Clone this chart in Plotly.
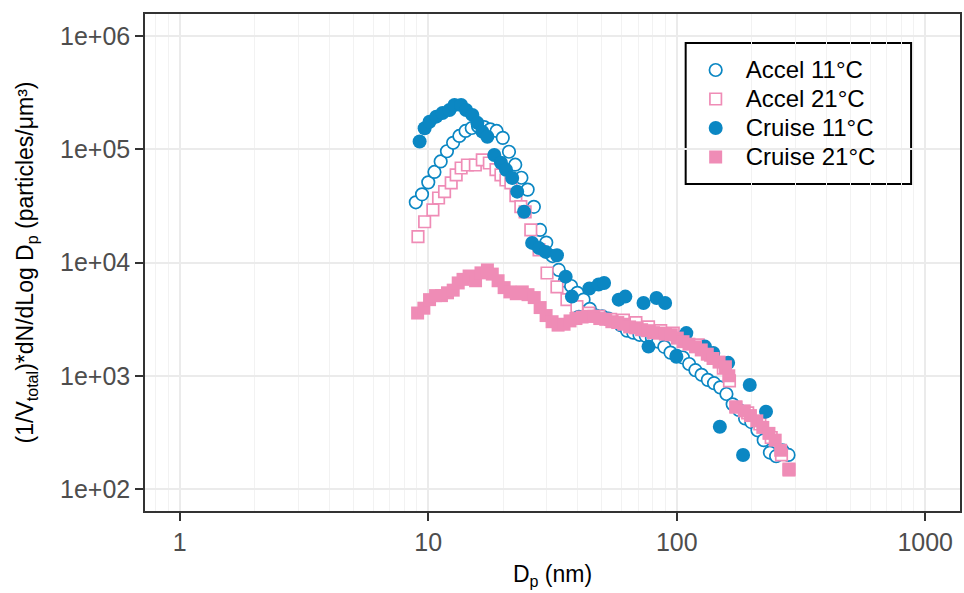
import plotly.graph_objects as go

# ---------------- data ----------------
accel11_x = [8.91, 9.44, 10.0, 10.59, 11.22, 11.89, 12.59, 13.34, 14.13, 14.96,
             15.85, 16.79, 17.78, 18.84, 19.95, 21.13, 22.39, 23.71, 25.12, 26.61,
             28.18, 29.85, 31.62, 33.50, 35.48, 37.58, 39.81, 42.17, 44.67, 47.32,
             50.12, 53.09, 56.23, 59.57, 63.10, 66.83, 70.79, 74.99, 79.43, 84.14,
             89.13, 94.41, 100.0, 105.9, 112.2, 118.9, 125.9, 133.4, 141.3, 149.6,
             158.5, 167.9, 177.8, 188.4, 199.5, 211.3, 223.9, 237.1, 251.2, 266.1, 281.8]
accel11_y = [3.4e4, 4.0e4, 5.1e4, 6.3e4, 7.8e4, 9.6e4, 1.14e5, 1.31e5, 1.45e5, 1.54e5,
             1.6e5, 1.57e5, 1.5e5, 1.45e5, 1.26e5, 9.5e4, 7.3e4, 5.6e4, 4.4e4, 3.1e4,
             1.94e4, 1.5e4, 1.14e4, 8.6e3, 6.9e3, 6.2e3, 5.4e3, 4.7e3, 3.9e3, 3.4e3,
             3.35e3, 3.2e3, 3.0e3, 2.8e3, 2.5e3, 2.4e3, 2.3e3, 2.25e3, 2.15e3, 2.0e3,
             1.8e3, 1.6e3, 1.5e3, 1.45e3, 1.27e3, 1.12e3, 1.02e3, 920, 860, 790,
             690, 560, 500, 420, 390, 330, 270, 210, 195, 220, 200]

accel21_x = [9.09, 9.67, 10.44, 11.0, 11.63, 12.37, 12.95, 13.56, 14.38, 15.47,
             16.5, 17.61, 18.73, 19.61, 20.54, 21.5, 22.52, 23.58, 24.54, 25.86,
             27.92, 30.06, 32.96, 36.15, 39.65, 44.28, 48.6, 54.2, 61.0, 68.5,
             77.0, 86.2, 96.8, 108, 122, 137, 154, 163, 173, 193,
             216, 240, 264, 283]
accel21_y = [1.69e4, 2.29e4, 2.91e4, 3.71e4, 4.22e4, 5.04e4, 5.93e4, 6.83e4, 7.26e4, 7.26e4,
             8.04e4, 7.56e4, 6.6e4, 5.93e4, 5.35e4, 5.04e4, 3.9e4, 3.11e4, 2.8e4, 1.94e4,
             1.29e4, 8.08e3, 6.1e3, 4.7e3, 4.07e3, 3.58e3, 3.35e3, 3.15e3, 3.1e3, 2.95e3,
             2.7e3, 2.5e3, 2.38e3, 2.15e3, 1.87e3, 1.52e3, 1.17e3, 900, 530, 470,
             375, 285, 200, 150]

cruise11_x = [9.23, 9.67, 10.12, 10.77, 11.41, 12.17, 12.75, 13.56, 14.2, 15.05,
              15.76, 16.5, 17.29, 18.44, 19.61, 20.54, 21.77, 22.8, 24.3, 26.18,
              27.92, 29.7, 32.96, 35.72, 37.85, 40.37, 44.5, 48.5, 51.0, 58.4,
              62.1, 73.5, 77.0, 82.9, 89.8, 99.7, 109.3, 129.9, 140.3, 149.1,
              161, 184.9, 196.7, 228.7]
cruise11_y = [1.17e5, 1.53e5, 1.75e5, 1.94e5, 2.09e5, 2.22e5, 2.46e5, 2.46e5, 2.22e5, 2.01e5,
              1.71e5, 1.43e5, 1.29e5, 8.9e4, 7.6e4, 6.6e4, 5.57e4, 4.22e4, 2.81e4, 1.49e4,
              1.34e4, 1.24e4, 1.16e4, 7.5e3, 5.0e3, 3.32e3, 5.9e3, 6.4e3, 6.6e3, 4.7e3,
              5.0e3, 4.39e3, 1.81e3, 4.86e3, 4.39e3, 1.47e3, 2.38e3, 1.81e3, 1.59e3, 355,
              1.3e3, 200, 829, 482]

cruise21_x = [9.06, 9.6, 10.12, 10.7, 11.3, 11.95, 12.6, 13.2, 13.8, 14.6,
              15.5, 16.3, 17.3, 18.1, 19.1, 20.2, 21.3, 22.6, 23.9, 25.2,
              26.7, 28.2, 29.8, 31.5, 33.3, 35.2, 37.2, 39.3, 41.6, 43.9,
              46.4, 49.0, 51.8, 54.8, 57.9, 61.2, 64.6, 68.3, 72.2, 76.3,
              80.6, 85.2, 90.0, 95.1, 100.5, 106, 112, 119, 125.5, 132.7,
              140, 148, 157, 162, 173, 187, 198, 210, 222, 235,
              249, 262, 283]
cruise21_y = [3.58e3, 3.95e3, 4.7e3, 5.1e3, 5.1e3, 5.4e3, 5.7e3, 6.6e3, 7.1e3, 7.6e3,
              6.9e3, 8.1e3, 8.6e3, 7.9e3, 6.9e3, 6.0e3, 5.5e3, 5.3e3, 5.5e3, 5.2e3,
              4.9e3, 4.0e3, 3.4e3, 3.0e3, 2.8e3, 2.85e3, 3.05e3, 3.2e3, 3.3e3, 3.35e3,
              3.35e3, 3.2e3, 3.15e3, 3.0e3, 2.95e3, 2.85e3, 2.7e3, 2.65e3, 2.55e3, 2.5e3,
              2.4e3, 2.38e3, 2.33e3, 2.3e3, 2.15e3, 2.0e3, 1.9e3, 1.8e3, 1.69e3, 1.55e3,
              1.42e3, 1.32e3, 1.2e3, 1.0e3, 530, 490, 445, 400, 350, 310,
              270, 220, 147]

series_names = ["Accel 11°C", "Accel 21°C", "Cruise 11°C", "Cruise 21°C"]
y_tick_vals = [1e2, 1e3, 1e4, 1e5, 1e6]
y_tick_text = ["1e+02", "1e+03", "1e+04", "1e+05", "1e+06"]
x_tick_vals = [1, 10, 100, 1000]
x_tick_text = ["1", "10", "100", "1000"]

BLUE = "#0b87c3"
PINK = "#ef8cb6"
FONT = "Liberation Sans, Arial, sans-serif"


def legend_label(s):
    return "<span style='font-size:24px'>" + s + "</span>"


fig = go.Figure()
fig.add_trace(go.Scatter(x=accel11_x, y=accel11_y, mode="markers", name=legend_label(series_names[0]),
                         marker=dict(symbol="circle", size=12.5, color="white",
                                     line=dict(color=BLUE, width=1.7))))
fig.add_trace(go.Scatter(x=accel21_x, y=accel21_y, mode="markers", name=legend_label(series_names[1]),
                         marker=dict(symbol="square", size=11.5, color="white",
                                     line=dict(color=PINK, width=1.7))))
fig.add_trace(go.Scatter(x=cruise11_x, y=cruise11_y, mode="markers", name=legend_label(series_names[2]),
                         marker=dict(symbol="circle", size=14, color=BLUE, line=dict(width=0))))
fig.add_trace(go.Scatter(x=cruise21_x, y=cruise21_y, mode="markers", name=legend_label(series_names[3]),
                         marker=dict(symbol="square", size=13, color=PINK, line=dict(width=0))))

# legend frame (drawn as a box in the plot area's domain coordinates)
fig.add_shape(type="rect", xref="x domain", yref="y domain",
              x0=0.6634, x1=0.9400, y0=0.6579, y1=0.9416,
              line=dict(color="black", width=2), fillcolor="white", layer="below")

fig.update_layout(
    width=964, height=593,
    margin=dict(l=145, r=2, t=14, b=82),
    paper_bgcolor="white", plot_bgcolor="white",
    font=dict(family=FONT, color="black"),
    showlegend=True,
    legend=dict(x=0.6634, y=0.9266, xanchor="left", yanchor="top",
                bgcolor="rgba(0,0,0,0)", borderwidth=0,
                font=dict(size=20, color="black", family=FONT),
                itemwidth=50, tracegroupgap=0),
)
fig.update_xaxes(
    type="log", range=[-0.14, 3.14],
    tickmode="array", tickvals=x_tick_vals, ticktext=x_tick_text,
    showgrid=True, gridcolor="#ebebeb", gridwidth=1.5,
    minor=dict(dtick="D1", showgrid=True, gridcolor="#f2f2f2", gridwidth=1),
    ticks="outside", ticklen=8, tickwidth=1.6, tickcolor="#333333",
    showline=True, linecolor="#333333", linewidth=1.5, mirror=True, zeroline=False,
    tickfont=dict(size=25, color="#4d4d4d", family=FONT),
    title=dict(text="D<sub>p</sub> (nm)", font=dict(size=23, color="black", family=FONT), standoff=11),
)
fig.update_yaxes(
    type="log", range=[1.806, 6.194],
    tickmode="array", tickvals=y_tick_vals, ticktext=y_tick_text,
    showgrid=True, gridcolor="#ebebeb", gridwidth=1.5,
    ticks="outside", ticklen=8, tickwidth=1.6, tickcolor="#333333",
    showline=True, linecolor="#333333", linewidth=1.5, mirror=True, zeroline=False,
    tickfont=dict(size=25, color="#4d4d4d", family=FONT),
    title=dict(text="(1/V<sub>total</sub>)*dN/dLog D<sub>p</sub> (particles/μm³)",
               font=dict(size=23, color="black", family=FONT), standoff=20),
)
fig.write_html("out.html")
